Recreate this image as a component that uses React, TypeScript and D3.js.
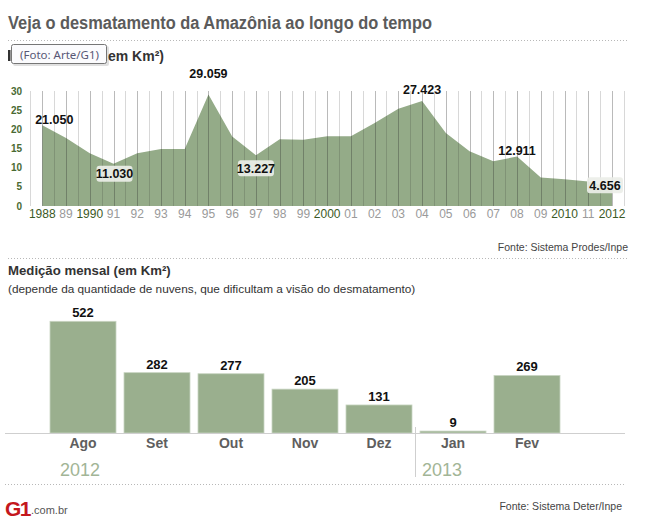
import React from "react";
import * as d3 from "d3";

const years = d3.range(1988, 2013);
const annualValues = [21.05, 17.77, 13.73, 11.03, 13.786, 14.896, 14.896, 29.059, 18.161, 13.227, 17.383, 17.259, 18.226, 18.165, 21.651, 25.396, 27.423, 19.014, 14.286, 11.651, 12.911, 7.464, 7.0, 6.418, 4.656];
const yearLabels = ["1988", "89", "1990", "91", "92", "93", "94", "95", "96", "97", "98", "99", "2000", "01", "02", "03", "04", "05", "06", "07", "08", "09", "2010", "11", "2012"];
const highlightYears = [1988, 1990, 2000, 2010, 2012];
const annualTicks = [0, 5, 10, 15, 20, 25, 30];
const annotatedYears = [1988, 1991, 1995, 1997, 2004, 2008, 2012];

const months = ["Ago", "Set", "Out", "Nov", "Dez", "Jan", "Fev"];
const monthValues = [522, 282, 277, 205, 131, 9, 269];

const FONT = "'Liberation Sans', Arial, sans-serif";

// label placement styles (offsets relative to the point) keyed by year
const annStyle: Record<number, { dx: number; dy: number; box: boolean }> = {
  1988: { dx: 12, dy: -6, box: false },
  1991: { dx: 1, dy: 10, box: true },
  1995: { dx: 0, dy: -21, box: false },
  1997: { dx: 0, dy: 13, box: true },
  2004: { dx: 0, dy: -11, box: false },
  2008: { dx: 0, dy: -6, box: false },
  2012: { dx: -7, dy: -3, box: true },
};

function fmt(v: number) {
  return v.toFixed(3);
}

export default function App() {
  const W = 653, H = 524;
  const x = d3.scaleLinear().domain([1988, 2012]).range([42.3, 612]);
  const y = d3.scaleLinear().domain([0, 30]).range([206, 91]);
  const area = d3
    .area<number>()
    .x((_, i) => x(years[i]))
    .y0(y(0))
    .y1((d) => y(d));
  const gridYears = d3.range(1987.5, 2012.51, 0.5);

  const xb = d3.scaleBand<string>().domain(months).range([46, 564]).paddingInner(8 / 74).paddingOuter(4 / 74);
  const yb = d3.scaleLinear().domain([0, 522]).range([433, 321.3]);

  return (
    <svg width={W} height={H} style={{ position: "absolute", left: 0, top: 0, background: "#fff" }} fontFamily={FONT}>
      <rect width={W} height={H} fill="#fff" />
      <text x={8} y={29} fontSize={18} fontWeight="bold" fill="#5b5b5b" textLength={424} lengthAdjust="spacingAndGlyphs">
        Veja o desmatamento da Amazônia ao longo do tempo
      </text>
      <line x1={8} x2={627} y1={40.5} y2={40.5} stroke="#b8b8b8" strokeDasharray="1,2" />

      {/* subtitle: visible part beside the tooltip */}
      <rect x={8} y={50} width={2.5} height={11} fill="#333" />
      <text x={108} y={61} fontSize={14} fontWeight="bold" fill="#333">
        em Km²)
      </text>

      {/* area chart */}
      <path d={area(annualValues) || ""} fill="#94ab88" />
      {gridYears.map((g) => {
        const isYear = Number.isInteger(g);
        return (
          <line
            key={g}
            x1={Math.round(x(g)) + 0.5}
            x2={Math.round(x(g)) + 0.5}
            y1={y(30)}
            y2={y(0)}
            stroke={isYear ? "rgba(40,40,40,0.32)" : "rgba(40,40,40,0.18)"}
            strokeWidth={1}
          />
        );
      })}
      {annualTicks.map((t) => (
        <text key={t} x={22} y={y(t) + 3.5} fontSize={10} fontWeight="bold" fill="#4a6a33" textAnchor="end">
          {t}
        </text>
      ))}
      {years.map((yr, i) => (
        <text
          key={yr}
          x={x(yr)}
          y={218}
          fontSize={12}
          textAnchor="middle"
          fill={highlightYears.includes(yr) ? "#3b5a26" : "#9a9a9a"}
        >
          {yearLabels[i]}
        </text>
      ))}
      {annotatedYears.map((yr) => {
        const i = years.indexOf(yr);
        const v = annualValues[i];
        const s = annStyle[yr];
        const cx = x(yr) + s.dx;
        const cy = y(v) + s.dy;
        return (
          <g key={yr}>
            {s.box && <rect x={cx - 18} y={cy - 8} width={36} height={16} rx={3} fill="rgba(236,238,232,0.92)" />}
            <text x={cx} y={cy + 4.5} fontSize={12.5} fontWeight="bold" fill="#111" textAnchor="middle">
              {fmt(v)}
            </text>
          </g>
        );
      })}

      <text x={628} y={251} fontSize={10.5} fill="#444" textAnchor="end">
        Fonte: Sistema Prodes/Inpe
      </text>
      <line x1={8} x2={627} y1={258.5} y2={258.5} stroke="#b8b8b8" strokeDasharray="1,2" />

      <text x={8} y={275} fontSize={13.2} fontWeight="bold" fill="#333">
        Medição mensal (em Km²)
      </text>
      <text x={8} y={293} fontSize={11.8} fill="#333">
        (depende da quantidade de nuvens, que dificultam a visão do desmatamento)
      </text>

      {/* bar chart */}
      {months.map((m, i) => (
        <g key={m}>
          <rect
            x={xb(m)!}
            y={yb(monthValues[i])}
            width={xb.bandwidth()}
            height={yb(0) - yb(monthValues[i])}
            fill="#9aaf8e"
            stroke="#c9d5c2"
            strokeWidth={0.8}
          />
          <text x={xb(m)! + xb.bandwidth() / 2} y={yb(monthValues[i]) - 4} fontSize={13} fontWeight="bold" fill="#111" textAnchor="middle">
            {monthValues[i]}
          </text>
          <text x={xb(m)! + xb.bandwidth() / 2} y={448} fontSize={14} fontWeight="bold" fill="#5e5e5e" textAnchor="middle">
            {m}
          </text>
        </g>
      ))}
      <line x1={5} x2={625} y1={433.5} y2={433.5} stroke="#cfcfcf" />
      <line x1={415.5} x2={415.5} y1={427} y2={477} stroke="#cfcfcf" />
      <text x={80} y={476} fontSize={18} fill="#a2b596" textAnchor="middle">2012</text>
      <text x={442} y={476} fontSize={18} fill="#a2b596" textAnchor="middle">2013</text>
      <line x1={5} x2={625} y1={484.5} y2={484.5} stroke="#b8b8b8" strokeDasharray="1,2" />

      {/* logo */}
      <text x={5} y={516} fontSize={21} fontWeight="900" fill="#c4171d" letterSpacing={-1.5} textLength={25} lengthAdjust="spacingAndGlyphs">G1</text>
      <text x={31} y={514} fontSize={11} fill="#555">.com.br</text>
      <text x={622} y={510} fontSize={10.5} fill="#444" textAnchor="end">
        Fonte: Sistema Deter/Inpe
      </text>

      {/* tooltip overlay */}
      <g>
        <rect x={13} y={46} width={96} height={20} rx={2} fill="rgba(0,0,0,0.12)" />
        <rect x={11.5} y={44.5} width={95} height={19} rx={2} fill="#fbfbfd" stroke="#767676" />
        <text x={20} y={58.5} fontSize={11.5} fill="#575775" fontFamily="'Noto Sans', 'DejaVu Sans', sans-serif">
          (Foto: Arte/G1)
        </text>
      </g>
    </svg>
  );
}
